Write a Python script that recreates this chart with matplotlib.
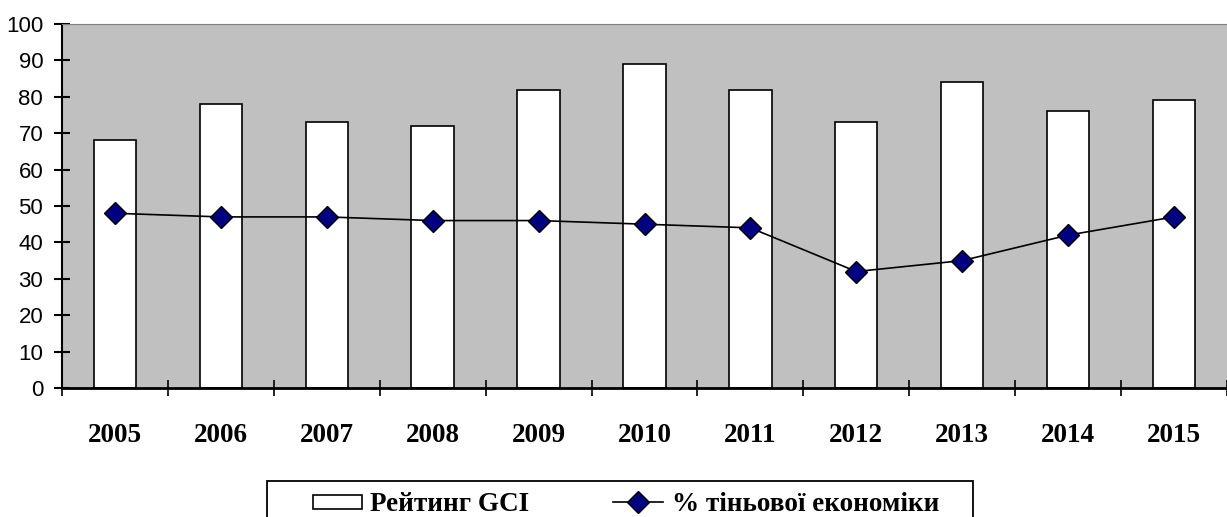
import numpy as np
import matplotlib
matplotlib.use("Agg")
import matplotlib.pyplot as plt
from matplotlib.patches import Rectangle
from matplotlib.lines import Line2D

# Data
years = ["2005", "2006", "2007", "2008", "2009", "2010",
         "2011", "2012", "2013", "2014", "2015"]
gci_rank = [68, 78, 73, 72, 82, 89, 82, 73, 84, 76, 79]
shadow_pct = [48, 47, 47, 46, 46, 45, 44, 32, 35, 42, 47]

bar_label = "Рейтинг GCI"
line_label = "% тіньової економіки"

W, H = 1227, 517
fig = plt.figure(figsize=(W / 100, H / 100), dpi=100)
ax = fig.add_axes([62 / W, 1 - 388 / H, 1 - 62 / W, (388 - 24) / H])
ax.set_facecolor("#C0C0C0")

x = np.arange(len(years))
ax.bar(x, gci_rank, width=0.4, color="white", edgecolor="black", linewidth=1.2, zorder=2)
ax.plot(x, shadow_pct, color="black", linewidth=1.2, marker="D", markersize=11,
        markerfacecolor="#000080", markeredgecolor="black", markeredgewidth=1, zorder=3)

ax.set_xlim(-0.5, len(years) - 0.5)
ax.set_ylim(0, 100)
ax.set_yticks(range(0, 101, 10))

# category labels at centres, tick marks at the boundaries
ax.set_xticks(x)
ax.set_xticklabels(years, fontfamily="Liberation Serif", fontweight="bold", fontsize=19.5)
ax.tick_params(axis="x", which="major", length=0, pad=25)
ax.set_xticks(np.arange(-0.5, len(years), 1.0), minor=True)
ax.tick_params(axis="x", which="minor", length=12, width=1.2, direction="inout")
ax.tick_params(axis="y", length=11, width=1.5, direction="inout", labelsize=16, pad=8)
for lab in ax.get_yticklabels():
    lab.set_fontfamily("Liberation Sans")

ax.spines["left"].set_linewidth(1.5)
ax.spines["bottom"].set_linewidth(2)
ax.spines["top"].set_color("#808080")
ax.spines["right"].set_visible(False)


def fx(px):
    return px / W


def fy(py):
    return 1 - py / H


# legend box drawn by hand, runs off the bottom edge like the original
fig.patches.append(Rectangle((fx(267), fy(535)), fx(973) - fx(267), fy(481) - fy(535),
                             transform=fig.transFigure, facecolor="white",
                             edgecolor="black", linewidth=1.3))
fig.patches.append(Rectangle((fx(313), fy(509)), fx(362) - fx(313), fy(495) - fy(509),
                             transform=fig.transFigure, facecolor="white",
                             edgecolor="black", linewidth=1.2))
fig.lines.append(Line2D([fx(613), fx(663)], [fy(502), fy(502)], transform=fig.transFigure,
                        color="black", linewidth=1.2))
fig.lines.append(Line2D([fx(638)], [fy(502)], transform=fig.transFigure, marker="D",
                        markersize=11, markerfacecolor="#000080", markeredgecolor="black",
                        linestyle="none"))
leg_font = {"family": "Liberation Serif", "weight": "bold", "size": 19.5}
fig.text(fx(370), fy(511), bar_label, va="baseline", ha="left", fontdict=leg_font)
fig.text(fx(672), fy(511), line_label, va="baseline", ha="left", fontdict=leg_font)

fig.savefig("out.png", dpi=100)
